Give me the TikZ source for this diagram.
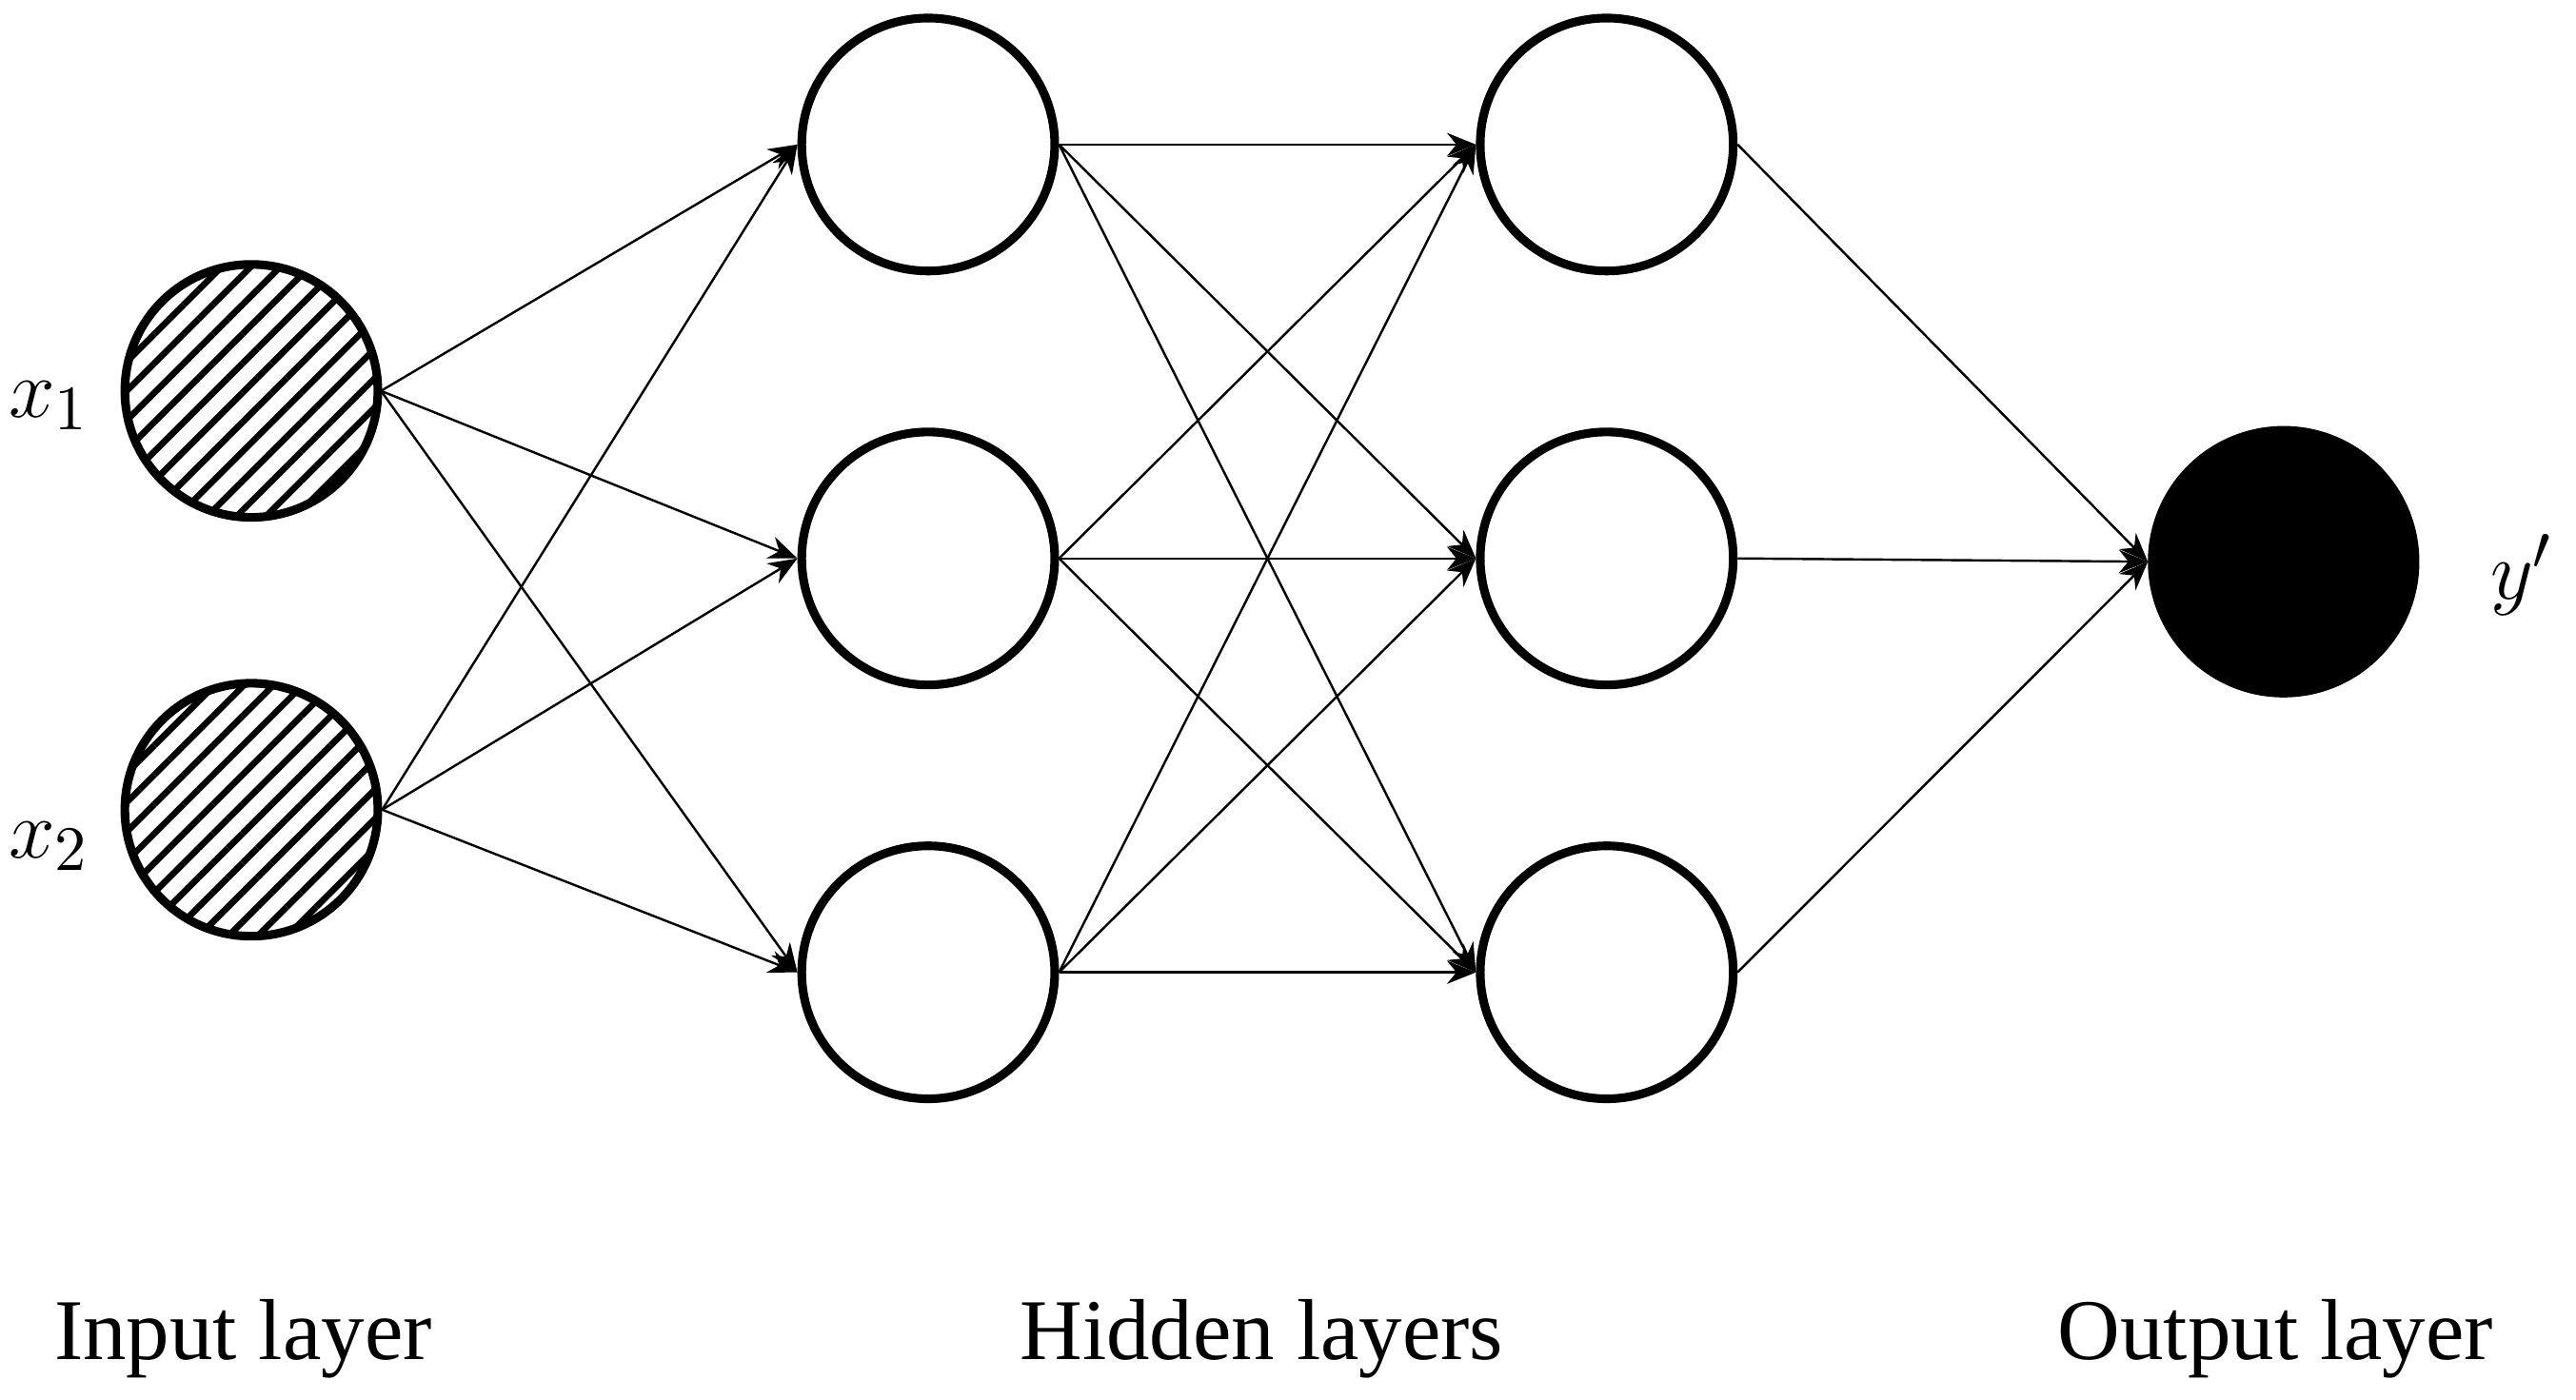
\documentclass[tikz,border=0pt]{standalone}
\usepackage{fontspec}
\setmainfont{Liberation Serif}
\usetikzlibrary{patterns.meta,arrows.meta}
\begin{document}
\begin{tikzpicture}[
  neuron/.style={circle,draw,line width=1.5pt,minimum size=1.54cm,inner sep=0pt},
  inp/.style={neuron,pattern={Lines[angle=45,distance=3.6pt,line width=1.1pt]}},
  conn/.style={line width=0.4pt,-{Stealth[length=5pt,width=4pt]}},
  lab/.style={font=\fontsize{15}{18}\selectfont}
]
\useasboundingbox (0,0) rectangle (15.68,8.52);
\node[inp] (i1) at (1.53,6.14) {};
\node[inp] (i2) at (1.53,3.59) {};
\foreach \n/\y in {1/7.64,2/5.12,3/2.60}{
  \node[neuron] (a\n) at (5.65,\y) {};
  \node[neuron] (b\n) at (9.78,\y) {};
}
\node[neuron,fill=black,minimum size=1.6cm] (o) at (13.90,5.10) {};
\foreach \i in {1,2}\foreach \j in {1,2,3}\draw[conn] (i\i.east) -- (a\j.west);
\foreach \i in {1,2,3}\foreach \j in {1,2,3}\draw[conn] (a\i.east) -- (b\j.west);
\foreach \i in {1,2,3}\draw[conn] (b\i.east) -- (o.west);
\node[lab] (lx1) at (0.30,6.05) {$x_1$};
\node[lab] (lx2) at (0.30,3.37) {$x_2$};
\node[lab] (ly) at (15.35,5.02) {$y'$};
\node[lab] (t1) at (1.48,0.37) {Input layer};
\node[lab] (t2) at (7.68,0.37) {Hidden layers};
\node[lab] (t3) at (13.85,0.37) {Output layer};
\end{tikzpicture}
\end{document}
